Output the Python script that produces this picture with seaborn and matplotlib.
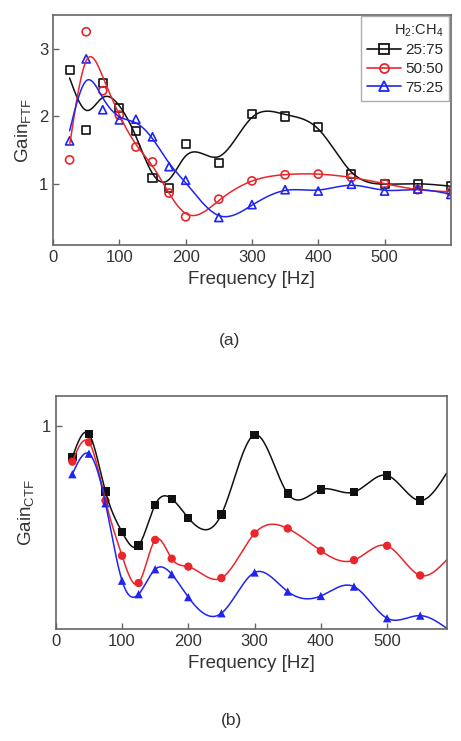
import numpy as np
import pandas as pd
import seaborn as sns
import matplotlib
matplotlib.use("Agg")
import matplotlib.pyplot as plt
from matplotlib.lines import Line2D

# Frecuencias medidas
freq_ftf = [25, 50, 75, 100, 125, 150, 175, 200, 250, 300, 350, 400, 450, 500, 550, 600]
freq_ctf = [25, 50, 75, 100, 125, 150, 175, 200, 250, 300, 350, 400, 450, 500, 550, 590]

# Gain FTF (a)
ftf_25_75 = [2.68, 1.80, 2.50, 2.12, 1.78, 1.09, 0.94, 1.59, 1.32, 2.04, 2.00, 1.85, 1.15, 1.01, 1.01, 0.97]
ftf_50_50 = [1.36, 3.25, 2.38, 2.02, 1.55, 1.33, 0.87, 0.52, 0.78, 1.05, 1.14, 1.15, 1.10, 1.01, 0.92, 0.89]
ftf_75_25 = [1.64, 2.85, 2.10, 1.95, 1.96, 1.70, 1.26, 1.06, 0.51, 0.70, 0.92, 0.90, 1.00, 0.90, 0.93, 0.85]

# Gain CTF (b), el ultimo valor es el final de la curva
ctf_25_75 = [0.893, 0.972, 0.776, 0.638, 0.592, 0.731, 0.751, 0.686, 0.698, 0.969, 0.769, 0.783, 0.774, 0.831, 0.745, 0.839]
ctf_50_50 = [0.878, 0.944, 0.745, 0.557, 0.464, 0.611, 0.547, 0.520, 0.481, 0.633, 0.650, 0.574, 0.542, 0.591, 0.490, 0.543]
ctf_75_25 = [0.835, 0.905, 0.736, 0.472, 0.426, 0.511, 0.494, 0.416, 0.361, 0.500, 0.435, 0.420, 0.452, 0.344, 0.353, 0.310]

mezclas = ["25:75", "50:50", "75:25"]
colores = {"25:75": "#111111", "50:50": "#e8262b", "75:25": "#1f24f0"}


def suavizar(x, y, lam):
    # suavizado tipo Whittaker sobre una malla de 1 Hz
    xs = np.arange(x[0], x[-1] + 1, 1.0)
    n = len(xs)
    w = np.zeros(n)
    yw = np.zeros(n)
    idx = np.searchsorted(xs, x)
    w[idx] = 1.0
    yw[idx] = y
    D = np.diff(np.eye(n), 2, axis=0)
    z = np.linalg.solve(np.diag(w) + lam * D.T @ D, yw)
    return xs, z


sns.set_style("ticks")
plt.rcParams["font.family"] = ["Liberation Sans", "DejaVu Sans"]
plt.rcParams["mathtext.fontset"] = "custom"
plt.rcParams["mathtext.rm"] = "Liberation Sans"
plt.rcParams["mathtext.it"] = "Liberation Sans"

fig = plt.figure(figsize=(4.61, 7.41), dpi=100)
ax1 = fig.add_axes([0.115, 0.669, 0.863, 0.311])
ax2 = fig.add_axes([0.121, 0.151, 0.848, 0.314])


def estilo(ax):
    for s in ax.spines.values():
        s.set_color("#666666")
        s.set_linewidth(1.2)
    ax.tick_params(direction="in", length=4, width=1, colors="#666666",
                   labelcolor="#333333", labelsize=12)


# (a) Gain FTF
datos_a = {"25:75": ftf_25_75, "50:50": ftf_50_50, "75:25": ftf_75_25}
marcas_a = {"25:75": "s", "50:50": "o", "75:25": "^"}
for m in mezclas:
    xs, z = suavizar(np.array(freq_ftf, float), np.array(datos_a[m]), 1.5e3)
    curva = pd.DataFrame({"f": xs, "g": z})
    sns.lineplot(data=curva, x="f", y="g", color=colores[m], lw=1.1, ax=ax1)
    pts = pd.DataFrame({"f": freq_ftf, "g": datos_a[m]})
    sns.scatterplot(data=pts, x="f", y="g", marker=marcas_a[m], s=34,
                    facecolor="none", edgecolor=colores[m], linewidth=1.2, ax=ax1)

ax1.set_xlim(0, 600)
ax1.set_ylim(0.1, 3.5)
ax1.set_xticks([0, 100, 200, 300, 400, 500])
ax1.set_yticks([1, 2, 3])
ax1.set_xlabel("Frequency [Hz]", fontsize=13.5, color="#333333")
ax1.set_ylabel(r"Gain$_{\mathrm{FTF}}$", fontsize=13.5, color="#333333")
estilo(ax1)
handles = [Line2D([], [], color=colores[m], marker=marcas_a[m], markerfacecolor="none",
                  markersize=6.5, markeredgewidth=1.3, lw=1.2) for m in mezclas]
leg = ax1.legend(handles, mezclas, title=r"H$_2$:CH$_4$", loc="upper right",
                 fontsize=11, title_fontsize=10.5, frameon=True, fancybox=False,
                 borderaxespad=0.1, handlelength=2.2, handletextpad=0.3,
                 labelspacing=0.3, borderpad=0.4, alignment="right")
leg.get_frame().set_edgecolor("#999999")
leg.get_frame().set_linewidth(1.0)

# (b) Gain CTF
datos_b = {"25:75": ctf_25_75, "50:50": ctf_50_50, "75:25": ctf_75_25}
marcas_b = {"25:75": "s", "50:50": "o", "75:25": "^"}
for m in mezclas:
    xs, z = suavizar(np.array(freq_ctf, float), np.array(datos_b[m]), 2.0)
    curva = pd.DataFrame({"f": xs, "g": z})
    sns.lineplot(data=curva, x="f", y="g", color=colores[m], lw=1.1, ax=ax2)
    pts = pd.DataFrame({"f": freq_ctf[:-1], "g": datos_b[m][:-1]})
    sns.scatterplot(data=pts, x="f", y="g", marker=marcas_b[m], s=36,
                    color=colores[m], edgecolor="none", ax=ax2)

ax2.set_xlim(0, 590)
ax2.set_ylim(0.307, 1.1)
ax2.set_xticks([0, 100, 200, 300, 400, 500])
ax2.set_yticks([1])
ax2.set_xlabel("Frequency [Hz]", fontsize=13.5, color="#333333")
ax2.set_ylabel(r"Gain$_{\mathrm{CTF}}$", fontsize=13.5, color="#333333")
estilo(ax2)

fig.text(0.497, 0.541, "(a)", ha="center", va="center", fontsize=12.5, color="#333333")
fig.text(0.503, 0.028, "(b)", ha="center", va="center", fontsize=12.5, color="#333333")

fig.savefig("out.png", dpi=100)
